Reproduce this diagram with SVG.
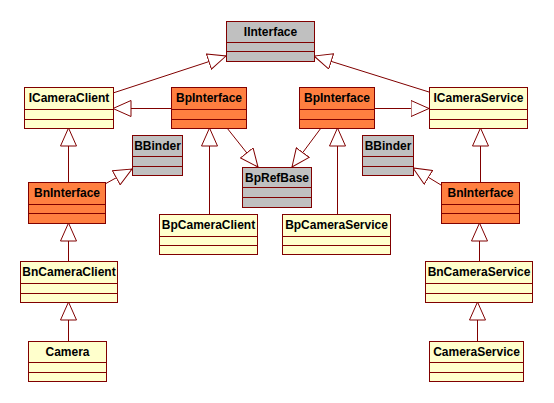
<svg xmlns="http://www.w3.org/2000/svg" width="554" height="403" viewBox="0 0 554 403">
<style>
.box{stroke:#800000;stroke-width:1}
.y{fill:#FFFFCC}
.o{fill:#FF7F40}
.g{fill:#C0C0C0}
.div{stroke:#800000;stroke-width:1}
.t{font-family:"Liberation Sans",Arial,sans-serif;font-weight:bold;font-size:12px;fill:#000;text-anchor:middle}
.c line{stroke:#800000;stroke-width:1;marker-end:url(#tri)}
</style>
<defs>
<marker id="tri" markerUnits="userSpaceOnUse" markerWidth="19" markerHeight="17" viewBox="-0.5 -0.5 19 17" refX="18" refY="8" orient="auto">
<path d="M0,0 L18,8 L0,16 Z" fill="#fff" stroke="#800000" stroke-width="1"/>
</marker>
</defs>
<rect width="554" height="403" fill="#fff"/>
<g class="c" id="connectors">
<line x1="113" y1="93" x2="226" y2="56"/>
<line x1="429" y1="92" x2="314" y2="56"/>
<line x1="171" y1="108.5" x2="113" y2="108.5"/>
<line x1="374" y1="108.5" x2="429" y2="108.5"/>
<line x1="68.5" y1="182" x2="68.5" y2="128"/>
<line x1="105" y1="184" x2="132" y2="169"/>
<line x1="227" y1="128" x2="258" y2="167"/>
<line x1="209.5" y1="214" x2="209.5" y2="128"/>
<line x1="321" y1="128" x2="292" y2="167"/>
<line x1="337.5" y1="214" x2="337.5" y2="128"/>
<line x1="441" y1="185" x2="413" y2="168"/>
<line x1="480.5" y1="182" x2="480.5" y2="128"/>
<line x1="68.5" y1="261" x2="68.5" y2="223"/>
<line x1="68.5" y1="341" x2="68.5" y2="302"/>
<line x1="479.5" y1="261" x2="479.5" y2="223"/>
<line x1="477.5" y1="341" x2="477.5" y2="302"/>
</g>
<g id="IInterface"><rect class="box g" x="226.5" y="21.5" width="88" height="40"/><line class="div" x1="226.5" y1="42.5" x2="314.5" y2="42.5"/><line class="div" x1="226.5" y1="51.5" x2="314.5" y2="51.5"/><text class="t" x="270.5" y="36">IInterface</text></g>
<g id="ICameraClient"><rect class="box y" x="24.5" y="87.5" width="89" height="41"/><line class="div" x1="24.5" y1="109.5" x2="113.5" y2="109.5"/><line class="div" x1="24.5" y1="119.5" x2="113.5" y2="119.5"/><text class="t" x="69" y="102">ICameraClient</text></g>
<g id="BpInterfaceL"><rect class="box o" x="171.5" y="87.5" width="75" height="41"/><line class="div" x1="171.5" y1="109.5" x2="246.5" y2="109.5"/><line class="div" x1="171.5" y1="119.5" x2="246.5" y2="119.5"/><text class="t" x="209" y="102">BpInterface</text></g>
<g id="BpInterfaceR"><rect class="box o" x="299.5" y="87.5" width="75" height="41"/><line class="div" x1="299.5" y1="109.5" x2="374.5" y2="109.5"/><line class="div" x1="299.5" y1="119.5" x2="374.5" y2="119.5"/><text class="t" x="337" y="102">BpInterface</text></g>
<g id="ICameraService"><rect class="box y" x="429.5" y="87.5" width="98" height="41"/><line class="div" x1="429.5" y1="109.5" x2="527.5" y2="109.5"/><line class="div" x1="429.5" y1="119.5" x2="527.5" y2="119.5"/><text class="t" x="478.5" y="102">ICameraService</text></g>
<g id="BBinderL"><rect class="box g" x="132.5" y="135.5" width="50" height="40"/><line class="div" x1="132.5" y1="156.5" x2="182.5" y2="156.5"/><line class="div" x1="132.5" y1="166.5" x2="182.5" y2="166.5"/><text class="t" x="157.5" y="150">BBinder</text></g>
<g id="BBinderR"><rect class="box g" x="362.5" y="135.5" width="51" height="40"/><line class="div" x1="362.5" y1="156.5" x2="413.5" y2="156.5"/><line class="div" x1="362.5" y1="166.5" x2="413.5" y2="166.5"/><text class="t" x="388" y="150">BBinder</text></g>
<g id="BpRefBase"><rect class="box g" x="242.5" y="167.5" width="69" height="40"/><line class="div" x1="242.5" y1="187.5" x2="311.5" y2="187.5"/><line class="div" x1="242.5" y1="197.5" x2="311.5" y2="197.5"/><text class="t" x="277" y="182">BpRefBase</text></g>
<g id="BnInterfaceL"><rect class="box o" x="28.5" y="182.5" width="77" height="41"/><line class="div" x1="28.5" y1="204.5" x2="105.5" y2="204.5"/><line class="div" x1="28.5" y1="213.5" x2="105.5" y2="213.5"/><text class="t" x="67" y="197">BnInterface</text></g>
<g id="BnInterfaceR"><rect class="box o" x="441.5" y="182.5" width="78" height="41"/><line class="div" x1="441.5" y1="204.5" x2="519.5" y2="204.5"/><line class="div" x1="441.5" y1="213.5" x2="519.5" y2="213.5"/><text class="t" x="480.5" y="197">BnInterface</text></g>
<g id="BpCameraClient"><rect class="box y" x="159.5" y="214.5" width="98" height="40"/><line class="div" x1="159.5" y1="236.5" x2="257.5" y2="236.5"/><line class="div" x1="159.5" y1="245.5" x2="257.5" y2="245.5"/><text class="t" x="208.5" y="229">BpCameraClient</text></g>
<g id="BpCameraService"><rect class="box y" x="282.5" y="214.5" width="108" height="40"/><line class="div" x1="282.5" y1="236.5" x2="390.5" y2="236.5"/><line class="div" x1="282.5" y1="245.5" x2="390.5" y2="245.5"/><text class="t" x="336.5" y="229">BpCameraService</text></g>
<g id="BnCameraClient"><rect class="box y" x="20.5" y="261.5" width="97" height="41"/><line class="div" x1="20.5" y1="283.5" x2="117.5" y2="283.5"/><line class="div" x1="20.5" y1="293.5" x2="117.5" y2="293.5"/><text class="t" x="69" y="276">BnCameraClient</text></g>
<g id="BnCameraService"><rect class="box y" x="425.5" y="261.5" width="107" height="41"/><line class="div" x1="425.5" y1="283.5" x2="532.5" y2="283.5"/><line class="div" x1="425.5" y1="293.5" x2="532.5" y2="293.5"/><text class="t" x="479" y="276">BnCameraService</text></g>
<g id="Camera"><rect class="box y" x="28.5" y="341.5" width="78" height="40"/><line class="div" x1="28.5" y1="362.5" x2="106.5" y2="362.5"/><line class="div" x1="28.5" y1="372.5" x2="106.5" y2="372.5"/><text class="t" x="67.5" y="356">Camera</text></g>
<g id="CameraService"><rect class="box y" x="429.5" y="341.5" width="94" height="40"/><line class="div" x1="429.5" y1="362.5" x2="523.5" y2="362.5"/><line class="div" x1="429.5" y1="372.5" x2="523.5" y2="372.5"/><text class="t" x="476.5" y="356">CameraService</text></g>
</svg>
